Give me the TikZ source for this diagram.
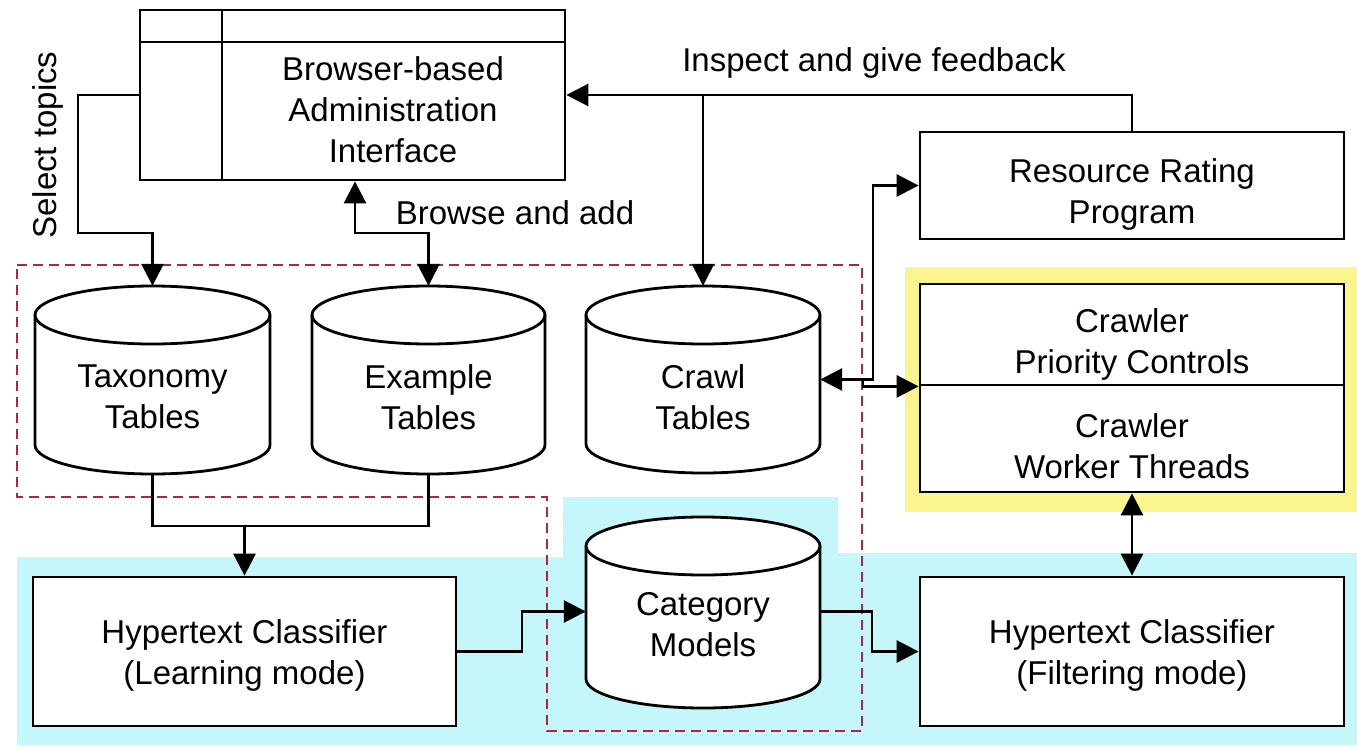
\documentclass[tikz,border=0pt]{standalone}
\usepackage{fontspec}
\setmainfont{Liberation Sans}
\usetikzlibrary{arrows.meta}
\definecolor{cyanbg}{HTML}{C4F6FA}
\definecolor{yellowbg}{HTML}{FBF590}
\definecolor{dashred}{HTML}{A82848}
\begin{document}
\begin{tikzpicture}[x=1pt,y=-1pt,
  every node/.style={font=\fontsize{33}{41}\selectfont},
  ln/.style={line width=2.8pt, line join=miter},
  box/.style={ln, draw, fill=white, inner sep=0pt, align=center},
  hid/.style={inner sep=0pt},
  lbl/.style={align=center, inner sep=0pt},
  arr/.style={ln, -{Triangle[length=22pt,width=22pt]}},
  arrtwo/.style={ln, {Triangle[length=22pt,width=22pt]}-{Triangle[length=22pt,width=22pt]}},
  cylpath/.style={ln, draw, fill=white}
]
\useasboundingbox (0,0) rectangle (1357,750);
\fill[white] (0,0) rectangle (1357,750);
% backgrounds
\fill[cyanbg] (17,557) -- (563,557) -- (563,497) -- (838,497) -- (838,553) -- (1357,553) -- (1357,745) -- (17,745) -- cycle;
\fill[yellowbg] (905,267) rectangle (1357,512);
\draw[dashred, line width=2.4pt, dash pattern=on 10pt off 6pt] (17,265) -- (862,265) -- (862,731) -- (547,731) -- (547,497) -- (17,497) -- cycle;

% admin box
\node[box, minimum width=425pt, minimum height=170pt] (admin) at (352.5,95) {};
\draw[ln] (140,42) -- (565,42);
\draw[ln] (222,10) -- (222,180);
\node[lbl] (admintxt) at (393,110) {Browser-based\\Administration\\Interface};

% right boxes
\node[box, minimum width=424pt, minimum height=107pt] (rating) at (1132,185.5) {};
\node[lbl] (ratingtxt) at (1132,194) {Resource Rating\\Program};
\node[box, minimum width=424pt, minimum height=101pt] (prio) at (1132,334.5) {};
\node[lbl] (priotxt) at (1132,344) {Crawler\\Priority Controls};
\node[box, minimum width=424pt, minimum height=107pt] (work) at (1132,438.5) {};
\node[lbl] (worktxt) at (1132,446) {Crawler\\Worker Threads};
\node[box, minimum width=423pt, minimum height=149pt] (learn) at (244.5,651.5) {};
\node[lbl] (learntxt) at (244.5,655) {Hypertext Classifier\\(Learning mode)};
\node[box, minimum width=424pt, minimum height=149pt] (filt) at (1132,651.5) {};
\node[lbl] (filttxt) at (1132,655) {Hypertext Classifier\\(Filtering mode)};

% cylinders
\draw[cylpath] (35,315) -- (35,445) arc[start angle=180,end angle=0,x radius=117.5,y radius=29] -- (270,315) arc[start angle=0,end angle=-180,x radius=117.5,y radius=29] -- cycle;
\draw[ln] (35,315) arc[start angle=180,end angle=0,x radius=117.5,y radius=29];
\node[hid, minimum width=235pt, minimum height=188pt] (tax) at (152.5,380) {};
\node[lbl] (taxtxt) at (152.5,397) {Taxonomy\\Tables};

\draw[cylpath] (312,315) -- (312,445) arc[start angle=180,end angle=0,x radius=116.5,y radius=29] -- (545,315) arc[start angle=0,end angle=-180,x radius=116.5,y radius=29] -- cycle;
\draw[ln] (312,315) arc[start angle=180,end angle=0,x radius=116.5,y radius=29];
\node[hid, minimum width=233pt, minimum height=188pt] (ex) at (428.5,380) {};
\node[lbl] (extxt) at (428.5,397) {Example\\Tables};

\draw[cylpath] (586,315) -- (586,444) arc[start angle=180,end angle=0,x radius=117,y radius=29] -- (820,315) arc[start angle=0,end angle=-180,x radius=117,y radius=29] -- cycle;
\draw[ln] (586,315) arc[start angle=180,end angle=0,x radius=117,y radius=29];
\node[hid, minimum width=234pt, minimum height=187pt] (crawl) at (703,379.5) {};
\node[lbl] (crawltxt) at (703,397) {Crawl\\Tables};

\draw[cylpath] (586,546) -- (586,679) arc[start angle=180,end angle=0,x radius=117,y radius=29] -- (820,546) arc[start angle=0,end angle=-180,x radius=117,y radius=29] -- cycle;
\draw[ln] (586,546) arc[start angle=180,end angle=0,x radius=117,y radius=29];
\node[hid, minimum width=234pt, minimum height=193pt] (cat) at (703,611.5) {};
\node[lbl] (cattxt) at (703,625) {Category\\Models};

% labels
\node[lbl, rotate=90] (seltxt) at (48,145) {Select topics};
\node[lbl] (browsetxt) at (515,213) {Browse and add};
\node[lbl] (inspecttxt) at (874,63) {Inspect and give feedback};

% connectors
\coordinate (st) at (78,233);
\draw[arr] (admin.west) -| (st) -| (tax.north);

\coordinate (ba) at (355,233);
\draw[arrtwo] (admin.south -| ba) -- (ba) -| (ex.north);

\draw[arr] (rating.north) |- (admin.east);
\draw[arr] (crawl.north |- admin.east) -- (crawl.north);

\coordinate (jn) at (244.5,526);
\draw[ln] (tax.south) |- (jn) -| (ex.south);
\draw[arr] (jn) -- (learn.north);

\coordinate (lc) at (522,611.5);
\draw[arr] (learn.east) -| (lc) -- (cat.west);

\coordinate (cf) at (872,611.5);
\draw[arr] (cat.east) -- (cf) |- (filt.west);

\coordinate (cr) at (873,379.5);
\draw[arrtwo] (crawl.east) -- (cr) |- (rating.west);
\coordinate (cb) at (863,379.5);
\draw[arr] (cb) |- (prio.south west);

\draw[arrtwo] (work.south) -- (filt.north);
\end{tikzpicture}
\end{document}
